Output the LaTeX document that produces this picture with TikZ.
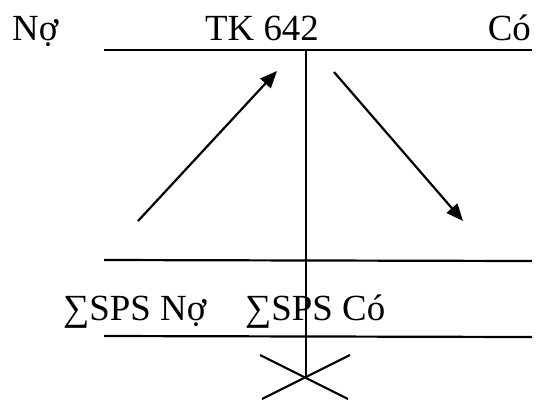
\documentclass[tikz,border=0pt]{standalone}
\usepackage{fontspec}
\setmainfont{Liberation Serif}
\usetikzlibrary{arrows.meta}
\begin{document}
\begin{tikzpicture}[x=1bp,y=-1bp,
  lbl/.style={inner sep=0pt,font=\fontsize{37}{40}\selectfont},
  rule/.style={line width=2.2bp},
  arr/.style={line width=2.2bp,-{Triangle[length=17bp,width=14bp]}}]
\useasboundingbox (0,0) rectangle (538,400);
% texts
\node[lbl,anchor=base west] (no) at (12,40) {Nợ};
\node[lbl,anchor=base west] (tk) at (205,40) {TK 642};
\node[lbl,anchor=base east] (co) at (531,40) {Có};
\node[lbl,anchor=base west] (spsno) at (63,320) {∑SPS Nợ};
\node[lbl,anchor=base west] (spsco) at (245,320) {∑SPS Có};
% rule coordinates
\coordinate (t1) at (104,50);
\coordinate (t2) at (532,50);
\coordinate (m1) at (104,260);
\coordinate (m2) at (532,261);
\coordinate (b1) at (104,336);
\coordinate (b2) at (532,337);
\coordinate (vtop) at (306,50);
\coordinate (vbot) at (306,377);
\coordinate (x1a) at (260,355);
\coordinate (x1b) at (348,399);
\coordinate (x2a) at (350,355);
\coordinate (x2b) at (262,399);
\coordinate (a1s) at (138,221);
\coordinate (a1e) at (277,71);
\coordinate (a2s) at (334,72);
\coordinate (a2e) at (463,221);
% drawing
\draw[rule] (t1) -- (t2);
\draw[rule] (m1) -- (m2);
\draw[rule] (b1) -- (b2);
\draw[rule] (vtop) -- (vbot);
\draw[rule] (x1a) -- (x1b);
\draw[rule] (x2a) -- (x2b);
\draw[arr] (a1s) -- (a1e);
\draw[arr] (a2s) -- (a2e);
\end{tikzpicture}
\end{document}
